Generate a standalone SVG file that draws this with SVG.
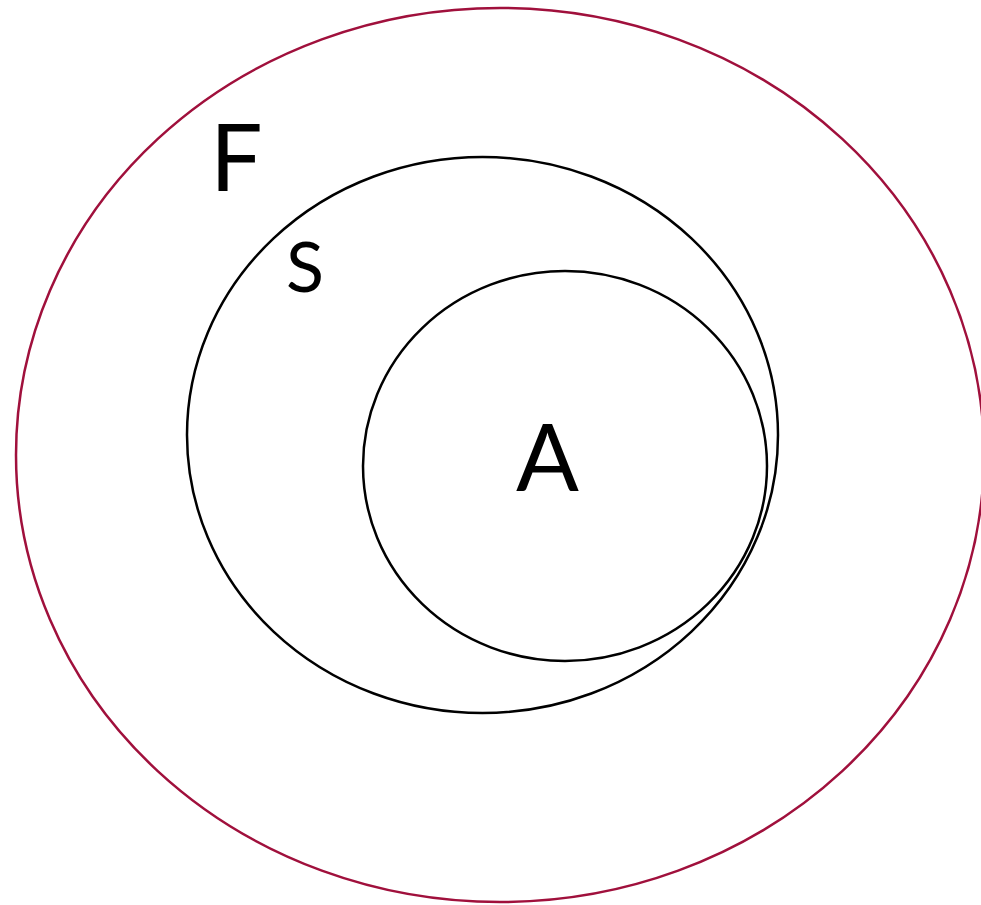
<svg xmlns="http://www.w3.org/2000/svg" width="981" height="905" viewBox="0 0 981 905">
<style>
.set{fill:none;stroke:#000;stroke-width:2.5}
.lbl{font-family:Lato,"Open Sans","Liberation Sans",sans-serif;fill:#000}
</style>
<rect width="981" height="905" fill="#fff"/>
<g id="F">
<ellipse cx="500" cy="455" rx="484" ry="447" fill="none" stroke="#A0103C" stroke-width="2.5"/>
<text class="lbl" x="210" y="191" font-size="93">F</text>
</g>
<g id="S">
<ellipse class="set" cx="482.5" cy="435" rx="295.5" ry="278"/>
<text class="lbl" x="286" y="292" font-size="70">S</text>
</g>
<g id="A">
<ellipse class="set" cx="565" cy="466" rx="202" ry="195"/>
<text class="lbl" x="516" y="491" font-size="93">A</text>
</g>
<g id="connectors"/>
</svg>
